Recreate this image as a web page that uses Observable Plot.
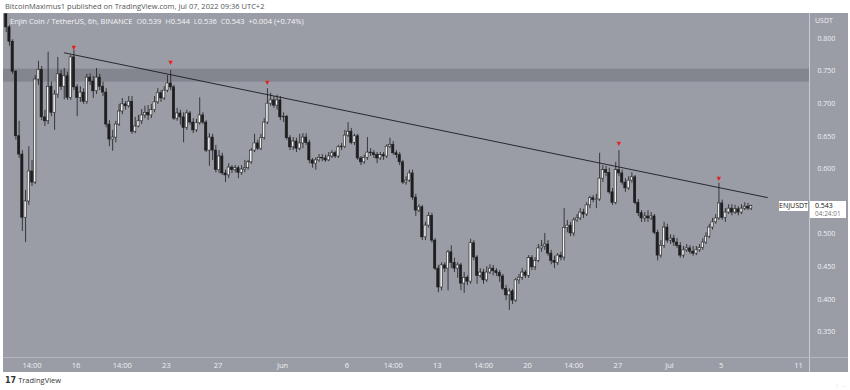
<!DOCTYPE html>
<html><head><meta charset="utf-8">
<script src="https://cdn.jsdelivr.net/npm/d3@7"></script>
<script src="https://cdn.jsdelivr.net/npm/@observablehq/plot@0.6"></script>
<style>
html,body{margin:0;padding:0;background:#fff;}
body{width:850px;height:390px;overflow:hidden;position:relative;font-family:"Open Sans","DejaVu Sans",sans-serif;}
#bg{position:absolute;left:3px;top:13px;width:845px;height:359px;background:#9a9da6;}
#vsep{position:absolute;left:809px;top:13px;width:1px;height:359px;background:#c9cbd1;}
#hsep{position:absolute;left:3px;top:357px;width:845px;height:1px;background:#b4b7be;}
#chart{position:absolute;left:0;top:0;}
#pub{position:absolute;left:5px;top:0px;font-size:7.5px;line-height:12px;color:#555;white-space:nowrap;}
#legend{position:absolute;left:10px;top:16px;font-size:7.5px;line-height:10px;color:#f4f5f7;white-space:nowrap;}
#legend b{font-weight:normal;color:#e6e8ec;}
#usdt{position:absolute;left:815px;top:16px;font-size:7px;color:#eef0f3;}
.box{position:absolute;background:#fff;color:#111;font-size:7px;white-space:nowrap;}
#foot{position:absolute;left:5px;top:375px;font-size:7.5px;color:#333;white-space:nowrap;}
#foot span{font-weight:bold;font-family:"DejaVu Sans",sans-serif;font-size:8px;margin-right:2px;}
</style></head>
<body>
<div id="bg"></div>
<div id="pub">BitcoinMaximus1 published on TradingView.com, Jul 07, 2022 09:36 UTC+2</div>
<div id="chart"></div>
<div id="vsep"></div>
<div id="hsep"></div>
<div id="legend"></div>
<div id="usdt">USDT</div>
<div id="foot"><span>17</span>TradingView</div>
<script>
// ---- data (6h candles, ENJ/USDT) ----
const symbol = "ENJUSDT";
const title = "Enjin Coin / TetherUS, 6h, BINANCE";
const startTime = Date.UTC(2022, 4, 10, 14); // first candle open
const stepHours = 6;
const open = [0.837,0.817,0.795,0.749,0.650,0.622,0.525,0.550,0.596,0.579,
0.737,0.752,0.679,0.673,0.726,0.686,0.714,0.745,0.726,0.742,
0.709,0.771,0.725,0.709,0.717,0.703,0.740,0.734,0.719,0.740,
0.726,0.717,0.668,0.645,0.648,0.668,0.688,0.699,0.696,0.703,
0.657,0.665,0.673,0.682,0.686,0.682,0.690,0.702,0.716,0.708,
0.720,0.731,0.725,0.677,0.685,0.679,0.663,0.685,0.671,0.659,
0.670,0.682,0.671,0.628,0.648,0.628,0.598,0.619,0.593,0.590,
0.602,0.598,0.601,0.594,0.599,0.601,0.610,0.628,0.639,0.631,
0.647,0.671,0.700,0.705,0.697,0.705,0.679,0.680,0.647,0.633,
0.642,0.631,0.639,0.648,0.640,0.613,0.608,0.613,0.617,0.616,
0.613,0.619,0.624,0.619,0.633,0.634,0.651,0.657,0.640,0.650,
0.616,0.610,0.617,0.625,0.624,0.621,0.616,0.621,0.619,0.634,
0.637,0.624,0.621,0.610,0.579,0.582,0.593,0.556,0.536,0.541,
0.495,0.513,0.528,0.490,0.447,0.418,0.452,0.447,0.472,0.456,
0.447,0.452,0.424,0.433,0.427,0.486,0.464,0.436,0.441,0.429,
0.441,0.447,0.443,0.440,0.435,0.416,0.406,0.412,0.398,0.429,
0.433,0.441,0.436,0.463,0.449,0.459,0.478,0.481,0.484,0.470,
0.459,0.456,0.467,0.464,0.509,0.513,0.501,0.521,0.524,0.533,
0.530,0.544,0.555,0.552,0.553,0.585,0.598,0.594,0.564,0.548,
0.598,0.593,0.579,0.570,0.582,0.587,0.548,0.532,0.524,0.527,
0.524,0.527,0.502,0.467,0.482,0.510,0.490,0.493,0.487,0.482,
0.467,0.475,0.478,0.473,0.470,0.475,0.479,0.487,0.496,0.510,
0.518,0.524,0.547,0.525,0.533,0.539,0.533,0.538,0.533,0.539,
0.542,0.539];
const high = [0.838,0.820,0.798,0.751,0.673,0.628,0.567,0.634,0.613,0.743,
0.765,0.757,0.690,0.779,0.733,0.720,0.771,0.751,0.754,0.748,
0.774,0.782,0.729,0.726,0.723,0.745,0.746,0.742,0.754,0.745,
0.733,0.723,0.674,0.659,0.673,0.699,0.708,0.703,0.711,0.711,
0.679,0.682,0.691,0.696,0.697,0.699,0.711,0.723,0.720,0.726,
0.743,0.751,0.728,0.693,0.690,0.686,0.690,0.688,0.677,0.676,
0.709,0.686,0.674,0.654,0.653,0.636,0.628,0.624,0.598,0.608,
0.605,0.605,0.604,0.605,0.613,0.613,0.631,0.653,0.644,0.653,
0.677,0.723,0.716,0.711,0.713,0.711,0.686,0.682,0.651,0.648,
0.647,0.653,0.654,0.654,0.644,0.616,0.617,0.622,0.622,0.621,
0.625,0.628,0.627,0.636,0.639,0.659,0.671,0.662,0.653,0.653,
0.619,0.621,0.648,0.631,0.628,0.625,0.625,0.625,0.637,0.647,
0.642,0.628,0.625,0.613,0.588,0.598,0.598,0.561,0.545,0.544,
0.518,0.533,0.532,0.493,0.452,0.456,0.456,0.475,0.482,0.463,
0.456,0.455,0.441,0.436,0.492,0.490,0.467,0.447,0.446,0.450,
0.453,0.452,0.447,0.444,0.438,0.421,0.416,0.415,0.432,0.438,
0.447,0.444,0.467,0.467,0.464,0.484,0.490,0.501,0.490,0.475,
0.466,0.470,0.472,0.539,0.521,0.518,0.525,0.530,0.539,0.538,
0.548,0.558,0.559,0.561,0.624,0.605,0.604,0.601,0.570,0.610,
0.628,0.598,0.585,0.588,0.594,0.590,0.553,0.536,0.533,0.536,
0.533,0.530,0.506,0.490,0.518,0.515,0.499,0.498,0.493,0.487,
0.481,0.484,0.482,0.481,0.481,0.484,0.493,0.502,0.515,0.524,
0.530,0.578,0.552,0.539,0.545,0.545,0.544,0.542,0.545,0.548,
0.547,0.544];
const low = [0.809,0.788,0.745,0.644,0.616,0.504,0.487,0.544,0.573,0.576,
0.728,0.674,0.665,0.668,0.680,0.659,0.708,0.720,0.706,0.705,
0.705,0.720,0.680,0.702,0.699,0.699,0.728,0.708,0.714,0.720,
0.711,0.663,0.634,0.627,0.640,0.665,0.683,0.690,0.693,0.653,
0.654,0.663,0.668,0.677,0.674,0.677,0.686,0.699,0.702,0.705,
0.717,0.720,0.674,0.673,0.667,0.640,0.659,0.667,0.654,0.656,
0.667,0.668,0.625,0.604,0.613,0.594,0.593,0.590,0.579,0.585,
0.593,0.594,0.585,0.590,0.594,0.598,0.607,0.625,0.628,0.628,
0.644,0.668,0.696,0.693,0.690,0.674,0.671,0.644,0.628,0.628,
0.625,0.628,0.631,0.636,0.608,0.601,0.598,0.610,0.611,0.610,
0.611,0.616,0.616,0.616,0.628,0.631,0.648,0.637,0.636,0.613,
0.605,0.607,0.613,0.619,0.616,0.608,0.613,0.613,0.616,0.631,
0.621,0.616,0.605,0.576,0.575,0.579,0.552,0.527,0.533,0.490,
0.490,0.509,0.486,0.444,0.410,0.413,0.441,0.413,0.447,0.441,
0.432,0.413,0.409,0.421,0.423,0.459,0.423,0.432,0.423,0.426,
0.438,0.436,0.435,0.426,0.413,0.398,0.383,0.392,0.395,0.423,
0.429,0.432,0.432,0.444,0.444,0.456,0.472,0.475,0.466,0.453,
0.447,0.452,0.459,0.459,0.502,0.496,0.496,0.518,0.521,0.524,
0.527,0.539,0.548,0.539,0.550,0.579,0.588,0.561,0.544,0.545,
0.588,0.575,0.564,0.567,0.578,0.545,0.527,0.518,0.518,0.518,
0.521,0.499,0.459,0.463,0.478,0.486,0.484,0.481,0.478,0.463,
0.463,0.472,0.469,0.466,0.467,0.472,0.475,0.484,0.493,0.506,
0.515,0.521,0.521,0.518,0.530,0.528,0.530,0.528,0.530,0.536,
0.536,0.536];
const close = [0.817,0.795,0.749,0.650,0.622,0.525,0.550,0.596,0.579,0.737,
0.752,0.679,0.673,0.726,0.686,0.714,0.745,0.726,0.742,0.709,
0.771,0.725,0.709,0.717,0.703,0.740,0.734,0.719,0.740,0.726,
0.717,0.668,0.645,0.648,0.668,0.688,0.699,0.696,0.703,0.657,
0.665,0.673,0.682,0.686,0.682,0.690,0.702,0.716,0.708,0.720,
0.731,0.725,0.677,0.685,0.679,0.663,0.685,0.671,0.659,0.670,
0.682,0.671,0.628,0.648,0.628,0.598,0.619,0.593,0.590,0.602,
0.598,0.601,0.594,0.599,0.601,0.610,0.628,0.639,0.631,0.647,
0.671,0.700,0.705,0.697,0.705,0.679,0.680,0.647,0.633,0.642,
0.631,0.639,0.648,0.640,0.613,0.608,0.613,0.617,0.616,0.613,
0.619,0.624,0.619,0.633,0.634,0.651,0.657,0.640,0.650,0.616,
0.610,0.617,0.625,0.624,0.621,0.616,0.621,0.619,0.634,0.637,
0.624,0.621,0.610,0.579,0.582,0.593,0.556,0.536,0.541,0.495,
0.513,0.528,0.490,0.447,0.418,0.452,0.447,0.472,0.456,0.447,
0.452,0.424,0.433,0.427,0.486,0.464,0.436,0.441,0.429,0.441,
0.447,0.443,0.440,0.435,0.416,0.406,0.412,0.398,0.429,0.433,
0.441,0.436,0.463,0.449,0.459,0.478,0.481,0.484,0.470,0.459,
0.456,0.467,0.464,0.509,0.513,0.501,0.521,0.524,0.533,0.530,
0.544,0.555,0.552,0.553,0.585,0.598,0.594,0.564,0.548,0.598,
0.593,0.579,0.570,0.582,0.587,0.548,0.532,0.524,0.527,0.524,
0.527,0.502,0.467,0.482,0.510,0.490,0.493,0.487,0.482,0.467,
0.475,0.478,0.473,0.470,0.475,0.479,0.487,0.496,0.510,0.518,
0.524,0.547,0.525,0.533,0.539,0.533,0.538,0.533,0.539,0.542,
0.539,0.543];
const lastChange = "+0.004 (+0.74%)";
const countdown = "04:24:01";

// resistance zone, trendline, and marked rejection points
const zone = [0.733, 0.753];
const trendTimes = ["2022-05-15T02:00Z", "2022-07-08T14:00Z"];
const trendPrices = [0.778, 0.556];
const markerTimes = ["2022-05-15T20:00Z","2022-05-23T08:00Z","2022-05-30T20:00Z","2022-06-27T02:00Z","2022-07-04T20:00Z"];
const markerPrices = [0.786, 0.763, 0.733, 0.639, 0.585];

// axes
const xDomain = ["2022-05-10T08:56Z", "2022-07-11T20:28Z"];
const yDomain = [0.3107, 0.8383];
const tickDates = ["2022-05-12T14:00Z","2022-05-16T00:00Z","2022-05-19T14:00Z","2022-05-23T00:00Z","2022-05-27T00:00Z","2022-06-01T00:00Z","2022-06-06T00:00Z","2022-06-09T14:00Z","2022-06-13T00:00Z","2022-06-16T14:00Z","2022-06-20T00:00Z","2022-06-23T14:00Z","2022-06-27T00:00Z","2022-07-01T00:00Z","2022-07-05T00:00Z","2022-07-11T00:00Z"];
const tickLabels = ["14:00","16","14:00","23","27","Jun","6","14:00","13","14:00","20","14:00","27","Jul","5","11"];
// 0.550 sits under the last-price box in the reference, so it is not shown
const priceTicks = [0.35,0.40,0.45,0.50,0.60,0.65,0.70,0.75,0.80];

// ---- build ----
const H = 3600e3;
const candles = open.map((o, i) => ({
  t: new Date(startTime + i * stepHours * H), o, h: high[i], l: low[i], c: close[i]
}));
const trend = trendTimes.map((t, i) => ({t: new Date(t), p: trendPrices[i]}));
const markers = markerTimes.map((t, i) => ({t: new Date(t), p: markerPrices[i]}));
const labelOf = new Map(tickDates.map((d, i) => [+new Date(d), tickLabels[i]]));
const last = candles[candles.length - 1];

const chart = Plot.plot({
  width: 850, height: 390,
  marginTop: 13, marginBottom: 33, marginLeft: 3, marginRight: 41,
  style: {background: "transparent", fontFamily: "'Open Sans', sans-serif", fontSize: "7.5px", color: "#eef0f3"},
  x: {type: "utc", domain: xDomain.map(d => new Date(d))},
  y: {domain: yDomain},
  marks: [
    Plot.rect([zone], {x1: () => new Date(xDomain[0]), x2: () => new Date(xDomain[1]), y1: d => d[0], y2: d => d[1], fill: "#83868f"}),
    Plot.axisX({ticks: tickDates.map(d => new Date(d)), tickFormat: d => labelOf.get(+d), tickSize: 0, tickPadding: 5, fontSize: 7.5, fill: "#eef0f3"}),
    Plot.axisY({anchor: "right", ticks: priceTicks, tickFormat: d3.format(".3f"), tickSize: 0, tickPadding: 8, fontSize: 7, fill: "#eef0f3", textAnchor: "start"}),
    Plot.line(trend, {x: "t", y: "p", stroke: "#1b1b1d", strokeWidth: 0.9}),
    Plot.ruleX(candles, {x: "t", y1: "l", y2: "h", stroke: "#1e1e20", strokeWidth: 0.8, clip: true}),
    Plot.rect(candles, {
      x1: d => new Date(+d.t - 2.1 * H), x2: d => new Date(+d.t + 2.1 * H),
      y1: "o", y2: "c",
      fill: d => d.c >= d.o ? "#f1f1f1" : "#1e1e20",
      stroke: "#1e1e20", strokeWidth: 0.6, clip: true
    }),
    Plot.text(markers, {x: "t", y: "p", text: () => "\u25BC", fill: "#e3241e", fontSize: 7.5})
  ]
});
document.getElementById("chart").appendChild(chart);

// legend line with OHLC of last candle
const f3 = d3.format(".3f");
document.getElementById("legend").innerHTML =
  `${title}&nbsp;&nbsp;<b>O</b>${f3(last.o)}&nbsp;&nbsp;<b>H</b>${f3(last.h)}&nbsp;&nbsp;<b>L</b>${f3(last.l)}&nbsp;&nbsp;<b>C</b>${f3(last.c)}&nbsp;&nbsp;${lastChange}`;

// last-price labels, positioned through the plot's y scale
const yLast = chart.scale("y").apply(last.c);
const sym = document.createElement("div");
sym.className = "box";
sym.style.cssText = `left:779px;top:${yLast - 5}px;width:29px;height:10px;line-height:10px;text-align:center;`;
sym.textContent = symbol;
document.body.appendChild(sym);
const pb = document.createElement("div");
pb.className = "box";
pb.style.cssText = `left:810px;top:${yLast - 5}px;width:36px;height:17px;line-height:8px;padding-left:5px;box-sizing:border-box;padding-top:1px;`;
pb.innerHTML = `${f3(last.c)}<br><span style="color:#777;font-size:6.5px">${countdown}</span>`;
document.body.appendChild(pb);
</script>
</body></html>
